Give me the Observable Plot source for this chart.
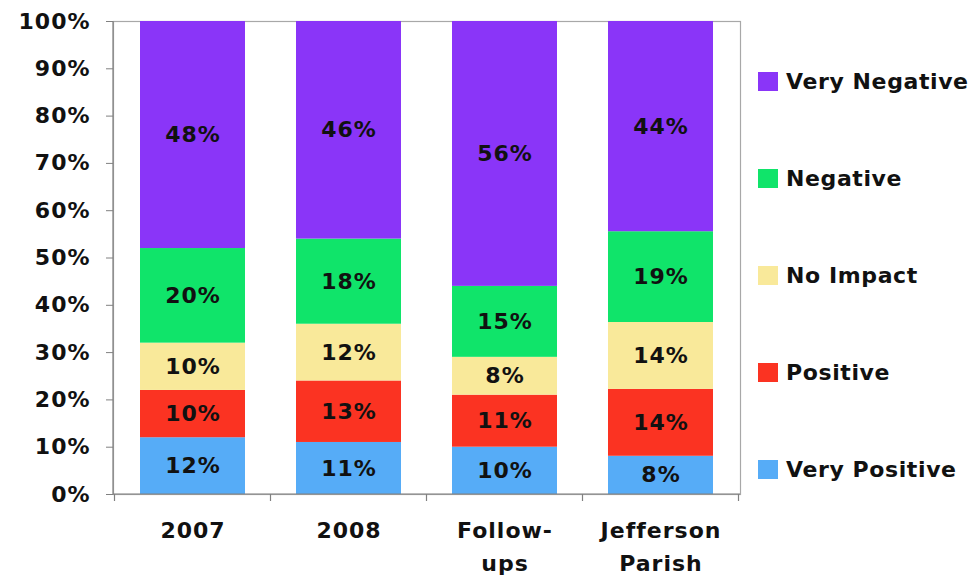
<!DOCTYPE html>
<html>
<head>
<meta charset="utf-8">
<script src="https://cdn.jsdelivr.net/npm/d3@7"></script>
<script src="https://cdn.jsdelivr.net/npm/@observablehq/plot@0.6"></script>
<style>
  html, body { margin: 0; padding: 0; background: #fff; }
  #wrap { position: relative; width: 979px; height: 577px; overflow: hidden; font-family: "DejaVu Sans", Verdana, sans-serif; }
  #chart { position: absolute; left: 0; top: 0; }
  #chart svg text { letter-spacing: 1px; }
  #legend { position: absolute; left: 758px; top: 33px; }
  .item { display: flex; align-items: center; height: 97px; font-weight: bold; font-size: 22px; letter-spacing: 0.6px; color: #111; white-space: nowrap; }
  .swatch { width: 20px; height: 19px; margin-right: 8px; }
</style>
</head>
<body>
<div id="wrap">
  <div id="chart"></div>
  <div id="legend"></div>
</div>
<script>
// Survey groups along the x axis
const categories = ["2007", "2008", "Follow-ups", "Jefferson Parish"];
const categoryLabels = ["2007", "2008", "Follow-\nups", "Jefferson\nParish"];

// Response levels, bottom of the stack first
const responses = ["Very Positive", "Positive", "No Impact", "Negative", "Very Negative"];
const responseColors = ["#56acf7", "#fb3322", "#f9e99a", "#10e46a", "#8a35f8"];

// Share of respondents (%) per group
const veryPositive = [12, 11, 10, 8];
const positive = [10, 13, 11, 14];
const noImpact = [10, 12, 8, 14];
const negative = [20, 18, 15, 19];
const veryNegative = [48, 46, 56, 44];

const yTicks = [0, 0.1, 0.2, 0.3, 0.4, 0.5, 0.6, 0.7, 0.8, 0.9, 1];

const series = [veryPositive, positive, noImpact, negative, veryNegative];
const data = [];
categories.forEach((c, i) => {
  responses.forEach((r, j) => data.push({category: c, response: r, value: series[j][i]}));
});
const labelOf = Object.fromEntries(categories.map((c, i) => [c, categoryLabels[i]]));

const textColor = "#111";
const axisColor = "#808080";

// Left and bottom axis lines plus the tick marks between groups
function axisLines(index, scales, values, dimensions) {
  const {width, height, marginLeft, marginRight, marginTop, marginBottom} = dimensions;
  const x = scales.x;
  const step = x.step();
  const bw = x.bandwidth();
  const y0 = height - marginBottom;
  const g = d3.create("svg:g").attr("stroke", axisColor).attr("stroke-width", 1.2);
  g.append("line").attr("x1", marginLeft).attr("x2", marginLeft).attr("y1", marginTop).attr("y2", y0 + 0.5);
  g.append("line").attr("x1", marginLeft).attr("x2", width - marginRight).attr("y1", y0).attr("y2", y0);
  const edges = categories.map(c => x(c) + bw / 2 - step / 2);
  edges.push(x(categories[categories.length - 1]) + bw / 2 + step / 2);
  for (const e of edges) {
    g.append("line").attr("x1", e).attr("x2", e).attr("y1", y0).attr("y2", y0 + 7);
  }
  return g.node();
}

const chart = Plot.plot({
  width: 750,
  height: 577,
  marginLeft: 113,
  marginRight: 10,
  marginTop: 21,
  marginBottom: 83,
  style: {fontFamily: "'DejaVu Sans', Verdana, sans-serif", fontWeight: "bold", fontSize: "22px", color: textColor, background: "#fff", overflow: "visible"},
  x: {domain: categories, paddingInner: 0.324, paddingOuter: 0.162, label: null},
  y: {domain: [0, 1], label: null},
  color: {domain: responses, range: responseColors},
  marks: [
    Plot.frame({stroke: "#a8a8a8", strokeWidth: 1.2}),
    Plot.barY(data, Plot.stackY({x: "category", y: "value", z: "response", fill: "response", offset: "normalize"})),
    Plot.text(data, Plot.stackY({
      x: "category", y: "value", z: "response", offset: "normalize",
      text: d => d.value + "%", fill: textColor, fontSize: 22, fontWeight: "bold"
    })),
    Plot.axisY({ticks: yTicks, tickFormat: d3.format(".0%"), tickSize: 7, tickPadding: 16, stroke: axisColor, fill: textColor, fontSize: 22, fontWeight: "bold", label: null}),
    Plot.axisX({tickSize: 0, tickPadding: 20, tickFormat: d => labelOf[d], lineHeight: 1.5, fill: textColor, fontSize: 22, fontWeight: "bold", label: null}),
    Plot.ruleY([0], {stroke: "none", render: axisLines})
  ]
});
document.getElementById("chart").appendChild(chart);

// Legend, top entry first
const legend = d3.select("#legend");
responses.slice().reverse().forEach((r) => {
  const item = legend.append("div").attr("class", "item");
  item.append("div").attr("class", "swatch").style("background", responseColors[responses.indexOf(r)]);
  item.append("span").text(r);
});
</script>
</body>
</html>
